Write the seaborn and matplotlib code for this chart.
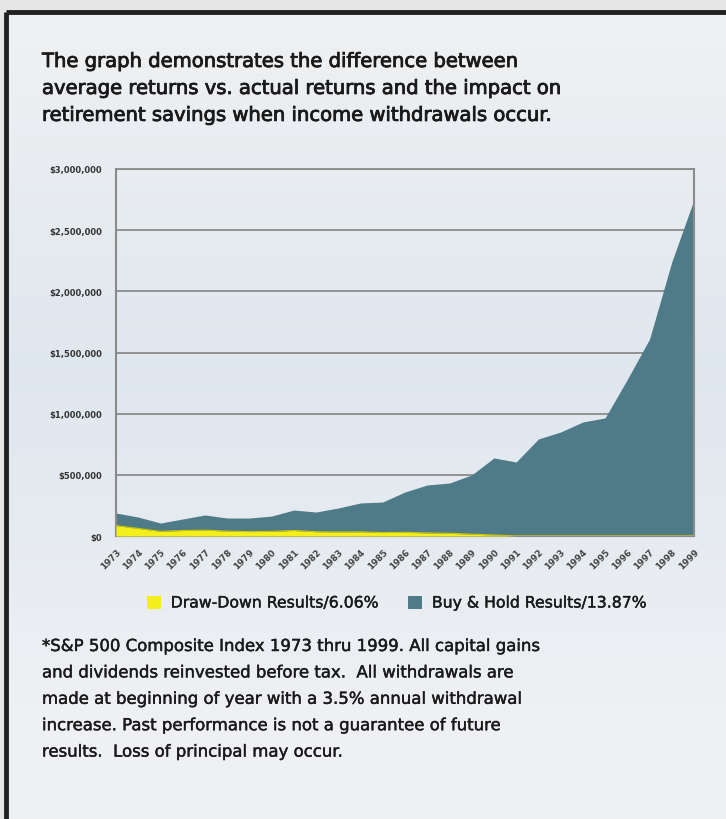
import numpy as np
import pandas as pd
import seaborn as sns
import matplotlib
matplotlib.use("Agg")
import matplotlib.pyplot as plt
import matplotlib.patheffects as pe
from matplotlib.patches import Patch

years = list(range(1973, 2000))
buy_hold = [188000, 155000, 106000, 139000, 172000, 147000, 147000, 163000, 212000, 196000,
            229000, 270000, 278000, 360000, 417000, 433000, 499000, 638000, 605000, 793000,
            850000, 932000, 965000, 1280000, 1610000, 2240000, 2750000]
draw_down = [85000, 62000, 38000, 45000, 48000, 40000, 36000, 38000, 45000, 35000,
             33000, 34000, 28000, 30000, 25000, 22000, 15000, 8000, 0, 0,
             0, 0, 0, 0, 0, 0, 0]
y_ticks = [0, 500000, 1000000, 1500000, 2000000, 2500000, 3000000]
y_labels = ["$0", "$500,000", "$1,000,000", "$1,500,000", "$2,000,000", "$2,500,000", "$3,000,000"]
legend_labels = ["Draw-Down Results/6.06%", "Buy & Hold Results/13.87%"]
title_text = ("The graph demonstrates the difference between\n"
              "average returns vs. actual returns and the impact on\n"
              "retirement savings when income withdrawals occur.")
note_text = ("*S&P 500 Composite Index 1973 thru 1999. All capital gains\n"
             "and dividends reinvested before tax.  All withdrawals are\n"
             "made at beginning of year with a 3.5% annual withdrawal\n"
             "increase. Past performance is not a guarantee of future\n"
             "results.  Loss of principal may occur.")

df = pd.DataFrame({"year": years, "buy_hold": buy_hold, "draw_down": draw_down})

sns.set_theme(style="white")
plt.rcParams['font.family'] = ['DejaVu Sans']

W, H = 726, 820
fig = plt.figure(figsize=(W / 100, H / 100), dpi=100)
fig.patch.set_facecolor("#e6e6e6")

# background panel with soft sky gradient
bg = fig.add_axes([0, 0, 1, 1], zorder=0)
bg.set_xlim(0, W)
bg.set_ylim(H, 0)
bg.axis("off")
grad = np.linspace(0, 1, 256).reshape(-1, 1)
c_top = np.array([0.94, 0.945, 0.95])
c_mid = np.array([0.875, 0.905, 0.935])
c_bot = np.array([0.94, 0.945, 0.955])
wts = np.clip(1 - np.abs(grad - 0.45) / 0.45, 0, 1)
img = c_top * (1 - wts[..., None]) * (grad[..., None] < 0.45) + \
      c_bot * (1 - wts[..., None]) * (grad[..., None] >= 0.45) + c_mid * wts[..., None]
bg.imshow(img, extent=[7, W, H, 14], aspect="auto", zorder=0)
bg.plot([6, W], [13, 13], color="#222222", lw=3.5, solid_capstyle="butt", zorder=2)
bg.plot([6, 6], [13, H], color="#222222", lw=3.5, solid_capstyle="butt", zorder=2)

stroke = [pe.withStroke(linewidth=0.6, foreground="#1a1a1a")]
bg.text(42, 53, title_text, fontsize=14.1, color="#1a1a1a", va="top", ha="left",
        linespacing=1.53, path_effects=stroke)
bg.text(42, 638, note_text, fontsize=11.9, color="#1a1a1a", va="top", ha="left",
        linespacing=1.60, path_effects=[pe.withStroke(linewidth=0.3, foreground="#1a1a1a")])

# chart axes
x0, x1, yt, yb = 116, 694, 170, 537
ax = fig.add_axes([x0 / W, 1 - yb / H, (x1 - x0) / W, (yb - yt) / H], zorder=1)
ax.patch.set_alpha(0)

teal = "#4f7b88"
yellow = "#f4ee1c"
ax.fill_between(df["year"], 0, df["buy_hold"], color=teal, lw=0, zorder=2)
ax.fill_between(df["year"], 0, df["draw_down"], color=yellow, lw=0, zorder=3)
sns.lineplot(data=df, x="year", y="draw_down", ax=ax, color="#c9c40a", lw=0.8, zorder=4)

ax.set_xlim(years[0], years[-1])
ax.set_ylim(0, 3000000)
ax.set_yticks(y_ticks)
ax.set_yticklabels(y_labels, fontsize=6.0, fontweight="bold", color="#333333")
ax.set_xticks(years)
ax.set_xticklabels([str(y) for y in years], rotation=45, ha="right", rotation_mode="anchor",
                   fontsize=6.3, fontweight="bold", color="#444444")
ax.tick_params(axis="x", length=2.5, width=0.8, color="#888888", pad=5, direction="out")
ax.tick_params(axis="y", length=5, width=1.2, color="#8a8a8a", pad=5, direction="out")
ax.grid(axis="y", color="#8a8a8a", lw=1.3, zorder=1)
ax.set_axisbelow(True)
ax.set_xlabel("")
ax.set_ylabel("")
for s in ["left", "right", "top", "bottom"]:
    ax.spines[s].set_visible(True)
    ax.spines[s].set_color("#8a8a8a")
    ax.spines[s].set_linewidth(1.5)
ax.spines["top"].set_linewidth(1.3)

handles = [Patch(facecolor=yellow, edgecolor="none"), Patch(facecolor=teal, edgecolor="none")]
leg = fig.legend(handles, legend_labels, loc="center left", bbox_to_anchor=(133 / W, 1 - 604 / H),
                 ncol=2, frameon=False, fontsize=11.3, handlelength=0.9, handleheight=0.9,
                 columnspacing=1.9, handletextpad=0.6)
for t in leg.get_texts():
    t.set_color("#1a1a1a")
    t.set_path_effects([pe.withStroke(linewidth=0.3, foreground="#1a1a1a")])

fig.savefig("out.png", dpi=100)
